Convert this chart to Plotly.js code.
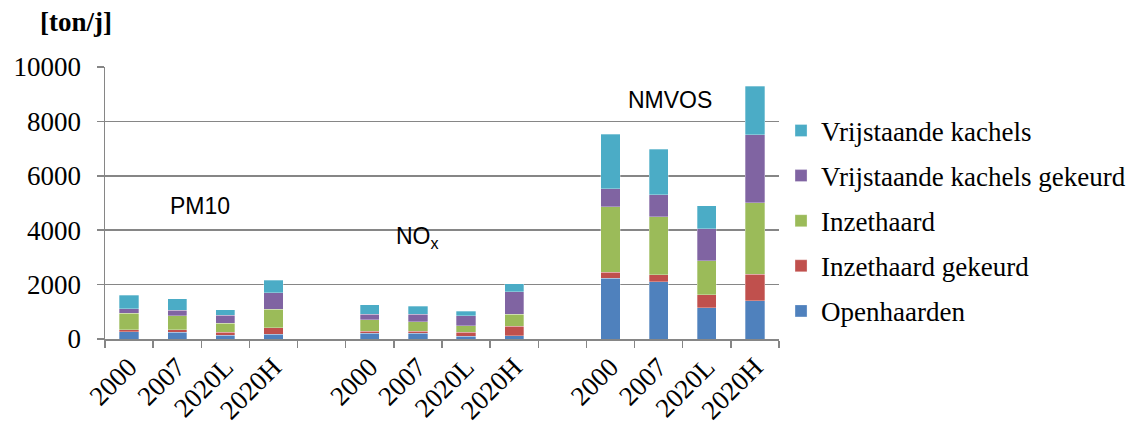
<!DOCTYPE html>
<html>
<head>
<meta charset="utf-8">
<script src="https://cdn.plot.ly/plotly-3.0.1.min.js"></script>
<style>body{margin:0;background:#fff}#chart{width:1144px;height:430px}</style>
</head>
<body>
<div id="chart"></div>
<script>
// Category slots (gap slots have empty labels)
const categories = ["PM10|2000","PM10|2007","PM10|2020L","PM10|2020H","gap1",
                    "NOx|2000","NOx|2007","NOx|2020L","NOx|2020H","gap2",
                    "NMVOS|2000","NMVOS|2007","NMVOS|2020L","NMVOS|2020H"];
const tickLabels = ["2000","2007","2020L","2020H","",
                    "2000","2007","2020L","2020H","",
                    "2000","2007","2020L","2020H"];
const barCategories = ["PM10|2000","PM10|2007","PM10|2020L","PM10|2020H",
                       "NOx|2000","NOx|2007","NOx|2020L","NOx|2020H",
                       "NMVOS|2000","NMVOS|2007","NMVOS|2020L","NMVOS|2020H"];

// Values in ton/j (segment sizes, stacked bottom to top)
const openhaarden          = [272, 250, 136, 173,   210, 210,  99, 124,   2233, 2110, 1153, 1399];
const inzethaardGekeurd    = [ 61,  83, 111, 247,    74,  74, 148, 345,    221,  246,  467,  981];
const inzethaard           = [605, 531, 333, 667,   420, 358, 235, 432,   2417, 2147, 1251, 2626];
const vrijstaandeGekeurd   = [173, 198, 297, 617,   210, 272, 382, 828,    650,  798, 1178, 2503];
const vrijstaandeKachels   = [494, 420, 197, 457,   346, 284, 149, 309,   2000, 1668,  847, 1779];

const seriesNames = ["Openhaarden","Inzethaard gekeurd","Inzethaard","Vrijstaande kachels gekeurd","Vrijstaande kachels"];
const seriesValues = [openhaarden, inzethaardGekeurd, inzethaard, vrijstaandeGekeurd, vrijstaandeKachels];
const seriesColors = ["#4F81BD","#C0504D","#9BBB59","#8064A2","#4BACC6"];

const groupLabels = ["PM10","NO<sub>x</sub>","NMVOS"];
const groupLabelX = [1.48, 6.0, 11.23];
const groupLabelY = [4890, 3750, 8790];

const serif = "Liberation Serif, Times New Roman, serif";
const sans = "Liberation Sans, Arial, sans-serif";

const traces = seriesNames.map((n,i)=>({
  type:"bar", name:n, x:barCategories, y:seriesValues[i],
  marker:{color:seriesColors[i], line:{color:"rgba(255,255,255,0.5)", width:0.6}},
  legendgroup:"g"+i, legendrank: seriesNames.length - i, hoverinfo:"skip"
}));

const annotations = groupLabels.map((t,i)=>({
  x:groupLabelX[i], y:groupLabelY[i], xref:"x", yref:"y", text:t, showarrow:false,
  font:{family:sans, size:23, color:"#000"}
}));
const plotW = 1144-104.5-364.5, plotH = 430-67-91;
annotations.push({x:(75-104.5)/plotW, y:(339-22)/plotH, xref:"paper", yref:"paper", text:"<b>[ton/j]</b>",
  showarrow:false, xanchor:"center", yanchor:"middle", font:{family:serif, size:27, color:"#000"}});

const layout = {
  width:1144, height:430,
  margin:{l:104.5, r:364.5, t:67, b:91},
  paper_bgcolor:"#fff", plot_bgcolor:"#fff",
  barmode:"stack", bargap:0.6,
  showlegend:true,
  legend:{x:1.003, y:0.855, xanchor:"left", yanchor:"top", traceorder:"grouped",
          tracegroupgap:7, font:{family:serif, size:27, color:"#000"}, bgcolor:"rgba(0,0,0,0)"},
  xaxis:{type:"category", categoryorder:"array", categoryarray:categories,
         tickvals:categories, ticktext:tickLabels, tickson:"boundaries",
         ticks:"outside", ticklen:7, tickcolor:"#868686", tickwidth:1.5,
         showline:true, linecolor:"#868686", linewidth:1.5, showgrid:false,
         tickangle:-45, tickfont:{family:serif, size:27, color:"#000"},
         range:[-0.5, 13.5], fixedrange:true},
  yaxis:{range:[0,10000], dtick:2000, tick0:0, tickformat:"d", ticks:"outside", ticklen:7,
         tickcolor:"#868686", tickwidth:1.5, showline:true, linecolor:"#868686", linewidth:1.5,
         showgrid:true, gridcolor:"#868686", gridwidth:1.5, zeroline:false, ticklabelstandoff:10,
         tickfont:{family:serif, size:27, color:"#000"}, fixedrange:true},
  annotations:annotations
};

Plotly.newPlot("chart", traces, layout, {displayModeBar:false, staticPlot:true});
</script>
</body>
</html>
